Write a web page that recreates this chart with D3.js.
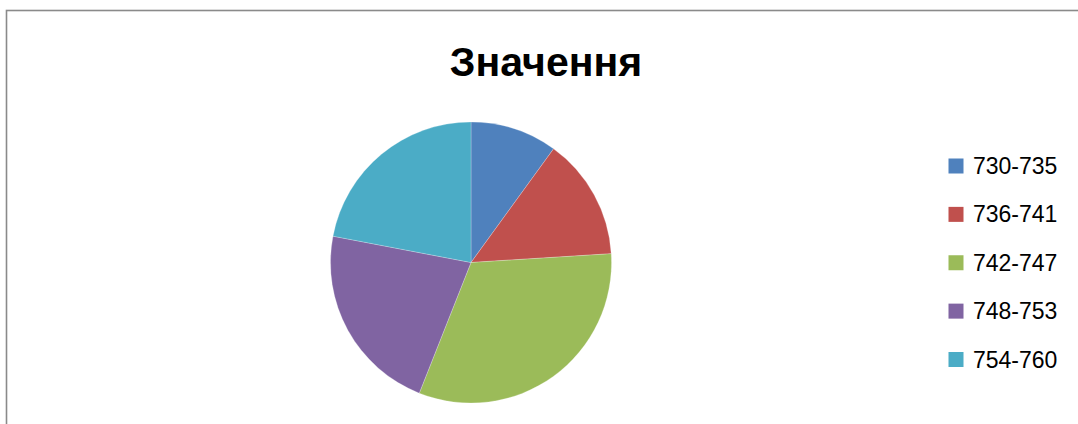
<!DOCTYPE html>
<html>
<head>
<meta charset="utf-8">
<script src="https://cdn.jsdelivr.net/npm/d3@7"></script>
<style>
  html, body { margin: 0; padding: 0; background: #ffffff; }
  svg { display: block; }
</style>
</head>
<body>
<svg id="chart" width="1078" height="424"></svg>
<script>
// Frequency of values by interval
const title = "Значення";
const categories = ["730-735", "736-741", "742-747", "748-753", "754-760"];
const counts = [5, 7, 16, 11, 11];
const colors = ["#4F81BD", "#C0504D", "#9BBB59", "#8064A2", "#4BACC6"];

const svg = d3.select("#chart");
const W = 1078, H = 424;

// Chart area frame (continues past the right and bottom edges)
svg.append("rect")
  .attr("x", 6.5).attr("y", 10.5)
  .attr("width", W + 20).attr("height", H + 20)
  .attr("fill", "#ffffff")
  .attr("stroke", "#8a8a8a")
  .attr("stroke-width", 1.6);

// Title
svg.append("text")
  .attr("x", 546).attr("y", 76)
  .attr("text-anchor", "middle")
  .attr("font-family", "'Liberation Sans', Arial, sans-serif")
  .attr("font-weight", "bold")
  .attr("font-size", 41)
  .attr("fill", "#000")
  .text(title);

// Pie
const cx = 471, cy = 262.5, r = 140.5;
const color = d3.scaleOrdinal().domain(categories).range(colors);
const pie = d3.pie().sort(null).value(d => d.v);
const arc = d3.arc().innerRadius(0).outerRadius(r);
const data = categories.map((c, i) => ({ c, v: counts[i] }));

svg.append("g")
  .attr("transform", `translate(${cx},${cy})`)
  .selectAll("path")
  .data(pie(data))
  .join("path")
  .attr("d", arc)
  .attr("fill", d => color(d.data.c))
  .attr("stroke", "#ffffff")
  .attr("stroke-width", 0.4)
  .attr("stroke-opacity", 0.6);

// Legend
const legendY = d3.scalePoint().domain(categories).range([166, 359.5]);
const lg = svg.append("g");
const item = lg.selectAll("g")
  .data(categories)
  .join("g")
  .attr("transform", d => `translate(948.5,${legendY(d)})`);
item.append("rect")
  .attr("x", 0).attr("y", -7.5)
  .attr("width", 15).attr("height", 15)
  .attr("fill", d => color(d));
item.append("text")
  .attr("x", 24.5).attr("y", 8)
  .attr("font-family", "'Liberation Sans', Arial, sans-serif")
  .attr("font-size", 23)
  .attr("fill", "#000")
  .text(d => d);
</script>
</body>
</html>
